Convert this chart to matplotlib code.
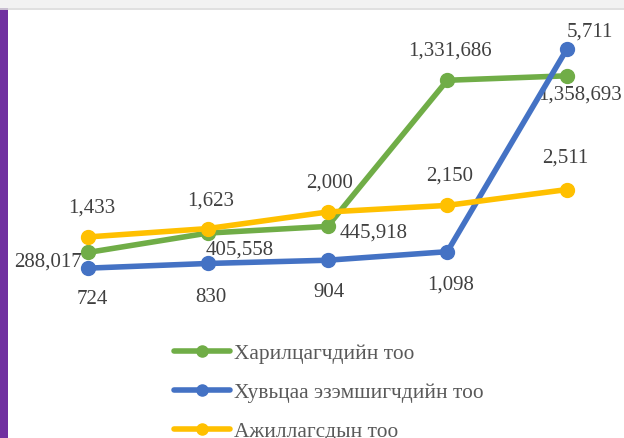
import matplotlib.pyplot as plt
from matplotlib.patches import Rectangle
from matplotlib.lines import Line2D

# Өгөгдөл
ангилал = [0, 1, 2, 3, 4]
харилцагч = [288017, 405558, 445918, 1331686, 1358693]
хувьцаа_эзэмшигч = [724, 830, 904, 1098, 5711]
ажиллагсад = [1433, 1623, 2000, 2150, 2511]
нэрс = ['Харилцагчдийн тоо', 'Хувьцаа эзэмшигчдийн тоо', 'Ажиллагсдын тоо']

# шошгоны байрлал (пикселээр шилжүүлэх)
ногоон_шилжилт = [(-6, -10, 'right'), (-2, -17, 'left'), (12, -7, 'left'), (3, 29, 'center'), (13, -19, 'center')]
цэнхэр_шилжилт = [(4, -31, 'center'), (3, -34, 'center'), (2, -32, 'center'), (3, -33, 'center'), (23, 17, 'center')]
шар_шилжилт = [(4, 29, 'center'), (3, 28, 'center'), (2, 29, 'center'), (2, 29, 'center'), (-2, 31, 'center')]

ногоон = '#70ad47'
цэнхэр = '#4472c4'
шар = '#ffc000'

plt.rcParams['font.family'] = ['Liberation Serif', 'DejaVu Serif']

fig = plt.figure(figsize=(6.24, 4.38), dpi=100)
fig.patch.set_facecolor('white')

# дээд саарал зурвас ба ягаан босоо зурвас
fig.patches.append(Rectangle((0, 1 - 8 / 438), 1, 8 / 438, transform=fig.transFigure,
                             facecolor='#f2f2f2', edgecolor='none', zorder=0))
fig.add_artist(Line2D([0, 1], [1 - 8.5 / 438] * 2, transform=fig.transFigure, color='#dadada', lw=1.2))
fig.patches.append(Rectangle((0, 0), 8 / 624, 1 - 8 / 438, transform=fig.transFigure,
                             facecolor='#7030a0', edgecolor='none', zorder=0))

ax1 = fig.add_axes([28 / 624, 138 / 438, 599 / 624, 264 / 438])
ax2 = ax1.twinx()
for ax in (ax1, ax2):
    ax.set_xlim(-0.5, 4.5)
    ax.axis('off')
ax1.set_ylim(0, 1600000)
ax2.set_ylim(0, 6000)

lw = 4
ms = 10
l1, = ax1.plot(ангилал, харилцагч, color=ногоон, lw=lw, marker='o', ms=ms, solid_capstyle='round')
l2, = ax2.plot(ангилал, хувьцаа_эзэмшигч, color=цэнхэр, lw=lw, marker='o', ms=ms, solid_capstyle='round')
l3, = ax2.plot(ангилал, ажиллагсад, color=шар, lw=lw, marker='o', ms=ms, solid_capstyle='round')


def шошго(ax, утгууд, шилжилт):
    for x, v, (dx, dy, ha) in zip(ангилал, утгууд, шилжилт):
        ax.annotate(f'{v:,}', (x, v), xytext=(dx, dy), textcoords='offset pixels',
                    ha=ha, va='center', fontsize=15, color='#404040', annotation_clip=False)


шошго(ax1, харилцагч, ногоон_шилжилт)
шошго(ax2, хувьцаа_эзэмшигч, цэнхэр_шилжилт)
шошго(ax2, ажиллагсад, шар_шилжилт)

h = [Line2D([], [], color=c, lw=lw, marker='o', ms=8, solid_capstyle='round') for c in (ногоон, цэнхэр, шар)]
leg = fig.legend(h, нэрс, loc='upper left', bbox_to_anchor=(174 / 624, 1 - 344 / 438),
                 frameon=False, fontsize=15.4, handlelength=2.6, handletextpad=0.22,
                 labelspacing=0.88, borderpad=0, borderaxespad=0)
for t in leg.get_texts():
    t.set_color('#595959')

fig.savefig('out.png', dpi=100)
